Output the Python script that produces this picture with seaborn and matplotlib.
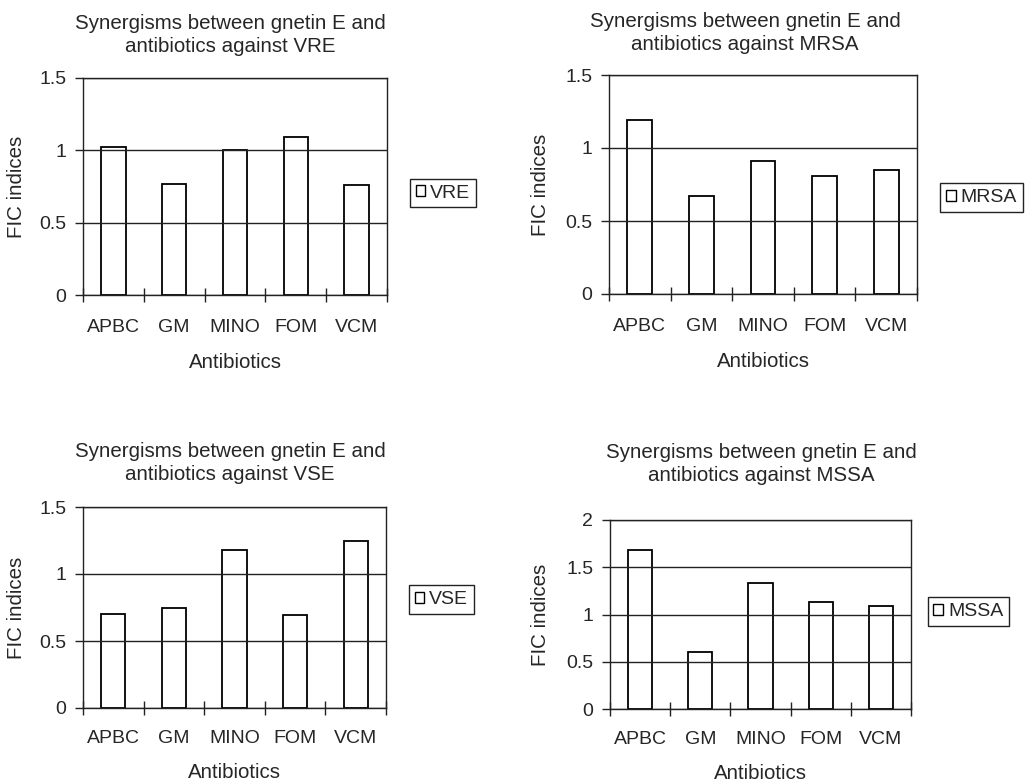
import matplotlib
matplotlib.use("Agg")
import matplotlib.pyplot as plt
from matplotlib.patches import Patch
from matplotlib.ticker import FuncFormatter, FixedLocator
import seaborn as sns
import pandas as pd

sns.set_style("white")
plt.rcParams['font.family'] = ['Liberation Sans', 'DejaVu Sans']

antibiotics = ["APBC", "GM", "MINO", "FOM", "VCM"]
vre = [1.02, 0.77, 1.005, 1.09, 0.76]
mrsa = [1.19, 0.67, 0.91, 0.81, 0.85]
vse = [0.70, 0.745, 1.18, 0.695, 1.25]
mssa = [1.68, 0.60, 1.33, 1.13, 1.09]

strains = ["VRE", "MRSA", "VSE", "MSSA"]
series = [vre, mrsa, vse, mssa]
ymax = [1.5, 1.5, 1.5, 2.0]
title_prefix = "Synergisms between gnetin E and\nantibiotics against "
xlabel = "Antibiotics"
ylabel = "FIC indices"

W, H = 1025, 782
fig = plt.figure(figsize=(W / 100, H / 100), dpi=100)

# axes boxes in pixels: left, right, top, bottom
boxes = [(83, 387, 78, 295), (609, 917, 75, 294), (83, 386, 507, 708), (610, 911, 520, 709)]
title_pos = [(230, 35), (745, 33), (230, 463), (761, 464)]
ylab_x = [-0.22, -0.222, -0.22, -0.23]
xlab_y = [-0.31, -0.31, -0.323, -0.34]
leg_pos = [(1.075, 0.47), (1.075, 0.44), (1.075, 0.54), (1.055, 0.516)]
tick_pad = [17.5, 17.5, 16, 15.5]

for i, (name, vals, top) in enumerate(zip(strains, series, ymax)):
    l, r, t, b = boxes[i]
    ax = fig.add_axes([l / W, 1 - b / H, (r - l) / W, (b - t) / H])
    df = pd.DataFrame({"Antibiotic": antibiotics, "FIC": vals})
    sns.barplot(data=df, x="Antibiotic", y="FIC", ax=ax, color="white",
                edgecolor="black", linewidth=1.3, width=0.4, saturation=1)
    ax.set_xlim(-0.5, len(antibiotics) - 0.5)
    ax.set_ylim(0, top)
    yt = [k * 0.5 for k in range(int(top / 0.5) + 1)]
    ax.set_yticks(yt)
    ax.yaxis.set_major_formatter(FuncFormatter(lambda v, p: f"{v:g}"))
    ax.yaxis.grid(True, color="#222222", linewidth=1.0)
    ax.set_axisbelow(False)
    for s in ax.spines.values():
        s.set_visible(True)
        s.set_color("#222222")
        s.set_linewidth(1.0)
    # x: labels at centers, tick marks at category boundaries
    ax.tick_params(axis="x", which="major", length=0, pad=tick_pad[i], labelsize=14)
    ax.xaxis.set_minor_locator(FixedLocator([k - 0.5 for k in range(len(antibiotics) + 1)]))
    ax.tick_params(axis="x", which="minor", direction="inout", length=10, width=1.0, color="#222222", bottom=True)
    ax.tick_params(axis="y", which="major", direction="out", length=6, width=1.0, color="#222222",
                   left=True, pad=6, labelsize=14)
    ax.set_xlabel(xlabel, fontsize=14.8, va="center")
    ax.xaxis.set_label_coords(0.5, xlab_y[i])
    ax.set_ylabel(ylabel, fontsize=14.8, va="center")
    ax.yaxis.set_label_coords(ylab_x[i], 0.5)
    tx, ty = title_pos[i]
    fig.text(tx / W, 1 - ty / H, title_prefix + name, ha="center", va="center",
             fontsize=14.8, linespacing=1.3)
    handle = Patch(facecolor="white", edgecolor="black", linewidth=1.0)
    leg = ax.legend([handle], [name], loc="center left", bbox_to_anchor=leg_pos[i],
                    frameon=True, fancybox=False, framealpha=1, edgecolor="#222222",
                    fontsize=14, handlelength=0.5, handleheight=0.5, handletextpad=0.25,
                    borderpad=0.3, borderaxespad=0)
    leg.get_frame().set_linewidth(1.0)

fig.savefig("out.png", dpi=100)
